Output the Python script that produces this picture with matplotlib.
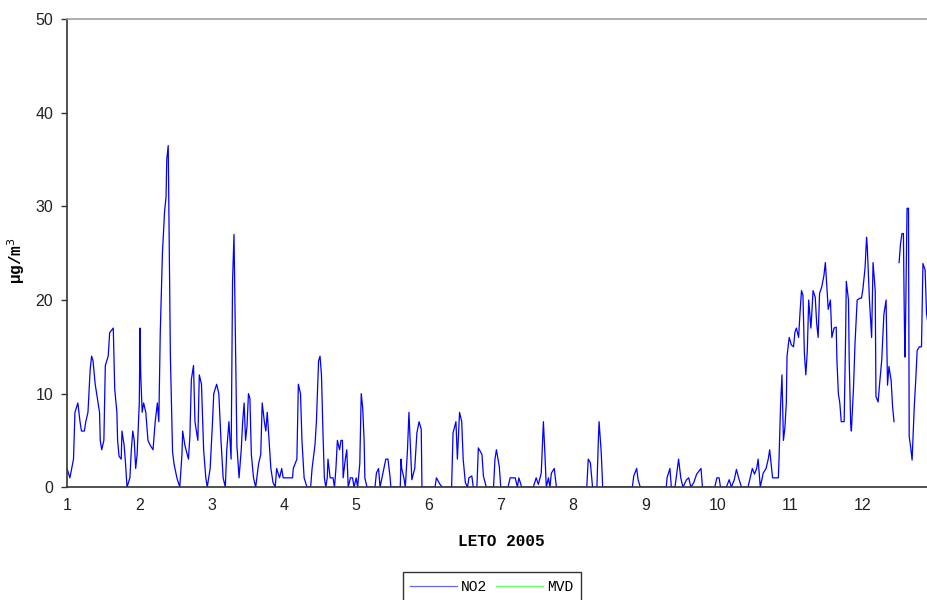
import numpy as np
import matplotlib
matplotlib.use("Agg")
import matplotlib.pyplot as plt

# Month position (fractional month of 2005) and NO2 concentration (µg/m3)
no2_month = [
    1.00, 1.04, 1.09, 1.11, 1.15, 1.18, 1.20, 1.24, 1.26, 1.29, 1.32, 1.34, 1.36, 1.39, 1.41,
    1.45, 1.46, 1.48, 1.51, 1.53, 1.57, 1.59, 1.64, 1.66, 1.69, 1.70, 1.72, 1.75, 1.76, 1.79,
    1.81, 1.83, 1.87, 1.89, 1.91, 1.93, 1.95, 1.97, 2.00, 2.01, 2.02, 2.04, 2.06, 2.09, 2.12,
    2.15, 2.19, 2.22, 2.25, 2.27, 2.29, 2.32, 2.35, 2.37, 2.38, 2.40, 2.41, 2.43, 2.46, 2.48,
    2.52, 2.56, 2.59, 2.60, 2.63, 2.68, 2.70, 2.72, 2.75, 2.77, 2.81, 2.83, 2.86, 2.89, 2.92,
    2.94, 2.98, 3.01, 3.03, 3.07, 3.10, 3.13, 3.16, 3.19, 3.21, 3.24, 3.27, 3.29, 3.31, 3.33,
    3.35, 3.38, 3.41, 3.43, 3.45, 3.47, 3.49, 3.51, 3.53, 3.55, 3.58, 3.61, 3.65, 3.68, 3.70,
    3.73, 3.75, 3.77, 3.80, 3.82, 3.85, 3.88, 3.90, 3.94, 3.97, 3.99, 4.04, 4.12, 4.13, 4.18,
    4.20, 4.23, 4.25, 4.28, 4.32, 4.37, 4.39, 4.43, 4.45, 4.48, 4.50, 4.52, 4.54, 4.56, 4.58,
    4.60, 4.61, 4.64, 4.68, 4.70, 4.72, 4.74, 4.77, 4.79, 4.81, 4.82, 4.85, 4.87, 4.89, 4.92,
    4.95, 4.97, 5.00, 5.02, 5.05, 5.07, 5.09, 5.11, 5.12, 5.15, 5.26, 5.28, 5.31, 5.33, 5.37,
    5.41, 5.44, 5.47, 5.48, 5.61, 5.62, 5.63, 5.66, 5.68, 5.71, 5.73, 5.77, 5.81, 5.84, 5.87,
    5.90, 5.91, 6.09, 6.11, 6.16, 6.19, 6.32, 6.34, 6.38, 6.40, 6.43, 6.46, 6.48, 6.51, 6.54,
    6.56, 6.60, 6.62, 6.67, 6.69, 6.74, 6.76, 6.80, 6.90, 6.92, 6.94, 6.98, 7.00, 7.10, 7.13,
    7.20, 7.23, 7.25, 7.29, 7.45, 7.49, 7.52, 7.56, 7.59, 7.61, 7.63, 7.66, 7.68, 7.70, 7.74,
    7.77, 8.19, 8.21, 8.24, 8.27, 8.33, 8.35, 8.36, 8.39, 8.41, 8.82, 8.84, 8.88, 8.90, 8.93,
    9.29, 9.30, 9.34, 9.36, 9.41, 9.43, 9.46, 9.49, 9.52, 9.57, 9.60, 9.63, 9.67, 9.71, 9.77,
    9.79, 9.96, 9.99, 10.02, 10.04, 10.12, 10.16, 10.19, 10.23, 10.26, 10.29, 10.33, 10.42, 10.45, 10.48,
    10.51, 10.54, 10.56, 10.59, 10.63, 10.67, 10.70, 10.72, 10.76, 10.84, 10.85, 10.87, 10.89, 10.91, 10.93,
    10.95, 10.96, 10.99, 11.02, 11.05, 11.07, 11.09, 11.12, 11.14, 11.16, 11.18, 11.20, 11.22, 11.24, 11.26,
    11.29, 11.30, 11.32, 11.35, 11.37, 11.39, 11.41, 11.44, 11.47, 11.49, 11.51, 11.53, 11.56, 11.58, 11.61,
    11.64, 11.65, 11.67, 11.69, 11.71, 11.75, 11.77, 11.78, 11.81, 11.82, 11.84, 11.85, 11.88, 11.90, 11.93,
    11.97, 11.99, 12.01, 12.04, 12.06, 12.07, 12.10, 12.13, 12.15, 12.18, 12.19, 12.22, 12.24, 12.27, 12.30,
    12.33, 12.35, 12.37, 12.40, 12.42, 12.44, 12.47, 12.51, 12.53, 12.55, 12.57, 12.58, 12.59, 12.60, 12.62,
    12.64, 12.65, 12.67, 12.69, 12.72, 12.74, 12.76, 12.79, 12.82, 12.84, 12.87, 12.89, 12.91,
]
no2_value = [
    2, 1, 3, 8, 9, 7, 6, 6, 7, 8, 12.5, 14, 13.5, 11, 10,
    8, 5, 4, 5, 13, 14, 16.5, 17, 10.5, 8, 5, 3.3, 3, 6, 4.5,
    2.5, 0, 1, 4, 6, 5, 2, 3.5, 9, 17, 12, 8, 9, 8, 5,
    4.5, 4, 7, 9, 7, 16.5, 25, 29.5, 31, 35, 36.5, 29, 14, 3.8, 2.5,
    1, 0, 3.5, 6, 4.5, 3, 5.5, 11.5, 13, 7, 5, 12, 11, 4, 1,
    0, 2, 6.5, 10, 11, 10, 5, 1, 0, 4, 7, 3, 22, 27, 15.5,
    4.5, 1, 4, 7, 9, 5, 6.5, 10, 9.5, 3.5, 1, 0, 2.5, 3.5, 9,
    7, 6, 8, 4.5, 2, 0.5, 0, 2, 1, 2, 1, 1, 1, 2, 3,
    11, 10, 5, 1, 0, 0, 2, 4.5, 7, 13.5, 14, 12, 6, 1, 0,
    1, 3, 1, 1, 0, 2, 5, 4, 5, 5, 1, 3, 4, 0, 1,
    1, 0, 1, 0, 2.5, 10, 8.5, 5, 1, 0, 0, 1.5, 2, 0, 1.5,
    3, 3, 1, 0, 0, 3, 2, 1, 0, 4, 8, 0.8, 2, 5.8, 7,
    6.2, 0, 0, 1, 0.3, 0, 0, 5.8, 7, 3, 8, 7, 3, 0.5, 0,
    1, 1.2, 0, 0, 4.2, 3.5, 1.2, 0, 0, 3, 4, 2.2, 0, 0, 1,
    1, 0, 1, 0, 0, 1, 0.3, 1.5, 7, 3.7, 0, 1, 0, 1.5, 2,
    0, 0, 3, 2.6, 0, 0, 5, 7, 3.7, 0, 0, 1.2, 2, 0.8, 0,
    0, 1, 2, 0, 0, 1.2, 3, 1, 0, 0.8, 1, 0, 0.5, 1.4, 2,
    0, 0, 1, 1, 0, 0, 0.8, 0, 0.8, 1.9, 1, 0, 0, 1, 2,
    1.4, 2, 3, 0, 1.5, 2, 3, 4, 1, 1, 3.2, 8.6, 12, 5, 6.3,
    9, 14, 16, 15.2, 15, 16.6, 17, 16, 18.7, 21, 20.5, 14.3, 12, 14.5, 20,
    17, 18.2, 21, 20.3, 17.5, 16, 20.7, 21.4, 22.6, 24, 21.4, 19, 20, 16, 17,
    17.1, 13.6, 10, 9, 7, 7, 16, 22, 20, 13.6, 6.8, 6, 10.7, 15.3, 20,
    20.2, 20.2, 21.2, 23.5, 26.7, 25.7, 20, 16, 24, 21, 9.7, 9.1, 11, 13.6, 18.5,
    20, 10.9, 12.9, 11.4, 8.6, 7, np.nan, 24, 26, 27.1, 27.1, 19.6, 13.9, 17.8, 29.8,
    29.8, 5.4, 4.3, 2.9, 8.6, 11.4, 14.6, 15, 15, 23.9, 23.2, 18.5, 17.5,
]
# MVD series has no values plotted in this chart
mvd_month = []
mvd_value = []

x_ticks = list(range(1, 13))
y_ticks = [0, 10, 20, 30, 40, 50]

fig = plt.figure(figsize=(9.28, 6.0), dpi=100)
ax = fig.add_axes([0.0722, 0.188, 0.9278, 0.780])

ax.plot(no2_month, no2_value, color="#0000ff", lw=0.9, label="NO2")
ax.plot(mvd_month, mvd_value, color="#00ff00", lw=1.0, label="MVD")

ax.set_xlim(1, 12.91)
ax.set_ylim(0, 50)
ax.set_xticks(x_ticks)
ax.set_yticks(y_ticks)

tick_font = dict(family=["Liberation Sans", "DejaVu Sans"], size=11.5)
ax.set_xticklabels([str(t) for t in x_ticks], **tick_font, color="#222222")
ax.set_yticklabels([str(t) for t in y_ticks], **tick_font, color="#222222")
ax.tick_params(axis="x", length=0, pad=8)
ax.tick_params(axis="y", length=4, width=1, color="#333333", pad=6)

for s in ["left", "bottom"]:
    ax.spines[s].set_color("#333333")
    ax.spines[s].set_linewidth(1.2)
ax.spines["top"].set_color("#a0a0a0")
ax.spines["top"].set_linewidth(1.2)
ax.spines["right"].set_visible(False)

lab_font = dict(family=["Liberation Mono", "DejaVu Sans Mono"], weight="bold", size=11.5)
ax.set_xlabel("LETO 2005", **lab_font)
ax.xaxis.set_label_coords(0.504, -0.100)
ax.set_ylabel("µg/m$^3$", **lab_font)
ax.yaxis.set_label_coords(-0.047, 0.485)

leg = fig.legend(loc="upper center", bbox_to_anchor=(0.530, 0.058), ncol=2,
                 frameon=True, fancybox=False, edgecolor="#000000",
                 prop=dict(family=["Liberation Mono", "DejaVu Sans Mono"], size=10.5),
                 handlelength=3.2, columnspacing=0.6, handletextpad=0.3,
                 borderpad=0.5)
leg.get_frame().set_linewidth(1.0)
for h in leg.get_lines():
    h.set_alpha(0.6)

fig.savefig("out.png", dpi=100)
